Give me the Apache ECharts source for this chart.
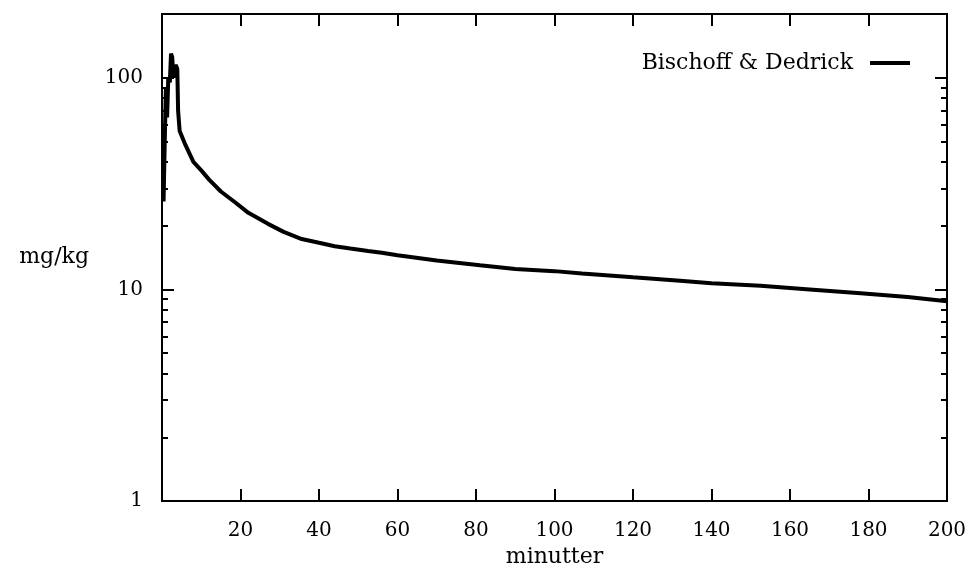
<!DOCTYPE html>
<html>
<head>
<meta charset="utf-8">
<script src="https://cdn.jsdelivr.net/npm/echarts@6/dist/echarts.min.js"></script>
<style>
  html, body { margin: 0; padding: 0; background: #fff; }
  #chart { width: 970px; height: 573px; }
</style>
</head>
<body>
<div id="chart"></div>
<script>
// ---- data ----
const minutes = [0.4, 0.7, 1.0, 1.3, 1.6, 2.0, 2.3, 2.6, 2.9, 3.2, 3.5, 3.9, 4.1, 4.5,
  6, 8, 10, 12, 15, 18.6, 22, 27, 31, 35.6, 40, 44, 48, 52.5, 56, 60, 70, 81, 90,
  100, 107, 120, 132, 140, 152.5, 165, 178, 190, 200];
const mgPerKg = [26, 50, 90, 65, 100, 95, 130, 125, 100, 110, 115, 110, 70, 56,
  48, 40, 36.5, 33, 29, 25.8, 23, 20.4, 18.7, 17.3, 16.6, 16.0, 15.6, 15.2, 14.9, 14.5, 13.7, 13.0, 12.5,
  12.2, 11.9, 11.4, 11.0, 10.7, 10.4, 10.0, 9.6, 9.2, 8.8];
const seriesName = 'Bischoff & Dedrick';
const xTickStep = 20;
const yMajorTicks = [1, 10, 100];
const yMinorTicks = [2, 3, 4, 5, 6, 7, 8, 9, 20, 30, 40, 50, 60, 70, 80, 90];

const FONT = 'DejaVu Serif';
const points = minutes.map((m, i) => [m, mgPerKg[i]]);

const lineStyleAxis = { color: '#000', width: 2 };

function xAxisDef(pos, showLabels) {
  return {
    type: 'value', position: pos, min: 0, max: 200, interval: xTickStep,
    name: showLabels ? 'minutter' : '', nameLocation: 'middle', nameGap: 43,
    nameTextStyle: { fontFamily: FONT, fontSize: 22, color: '#000' },
    axisLine: { show: true, onZero: false, lineStyle: lineStyleAxis },
    axisTick: { show: true, inside: true, length: 12, lineStyle: { color: '#000', width: 2 } },
    axisLabel: { show: showLabels, margin: 20, fontFamily: FONT, fontSize: 20, color: '#000',
      formatter: v => (v === 0 ? '' : String(v)) },
    splitLine: { show: false }
  };
}
function yAxisDef(pos, ticks, len, showLabels, name) {
  return {
    type: 'log', logBase: 10, position: pos, min: 1, max: 200,
    name: name || '', nameLocation: 'middle', nameRotate: 0, nameGap: 73,
    nameTextStyle: { fontFamily: FONT, fontSize: 22, color: '#000' },
    axisLine: { show: true, onZero: false, lineStyle: lineStyleAxis },
    axisTick: { show: true, inside: true, length: len, customValues: ticks, lineStyle: { color: '#000', width: 2 } },
    axisLabel: { show: showLabels, customValues: ticks, margin: 19, fontFamily: FONT, fontSize: 20, color: '#000' },
    splitLine: { show: false }
  };
}

const chart = echarts.init(document.getElementById('chart'), null, { renderer: 'canvas' });
chart.setOption({
  animation: false,
  backgroundColor: '#fff',
  grid: { left: 162, right: 23, top: 14, bottom: 69, containLabel: false },
  legend: {
    right: 55, top: 47, align: 'right',
    icon: 'rect', itemWidth: 40, itemHeight: 4,
    textStyle: { fontFamily: FONT, fontSize: 22, color: '#000', padding: [0, 12, 0, 0] },
    data: [seriesName]
  },
  xAxis: [xAxisDef('bottom', true), xAxisDef('top', false)],
  yAxis: [
    yAxisDef('left', yMajorTicks, 12, true, 'mg/kg'),
    yAxisDef('left', yMinorTicks, 6, false),
    yAxisDef('right', yMajorTicks, 12, false),
    yAxisDef('right', yMinorTicks, 6, false)
  ],
  series: [{
    name: seriesName, type: 'line', xAxisIndex: 0, yAxisIndex: 0,
    data: points, showSymbol: false, symbol: 'none',
    lineStyle: { color: '#000', width: 4 }, itemStyle: { color: '#000' }
  }]
});
</script>
</body>
</html>
